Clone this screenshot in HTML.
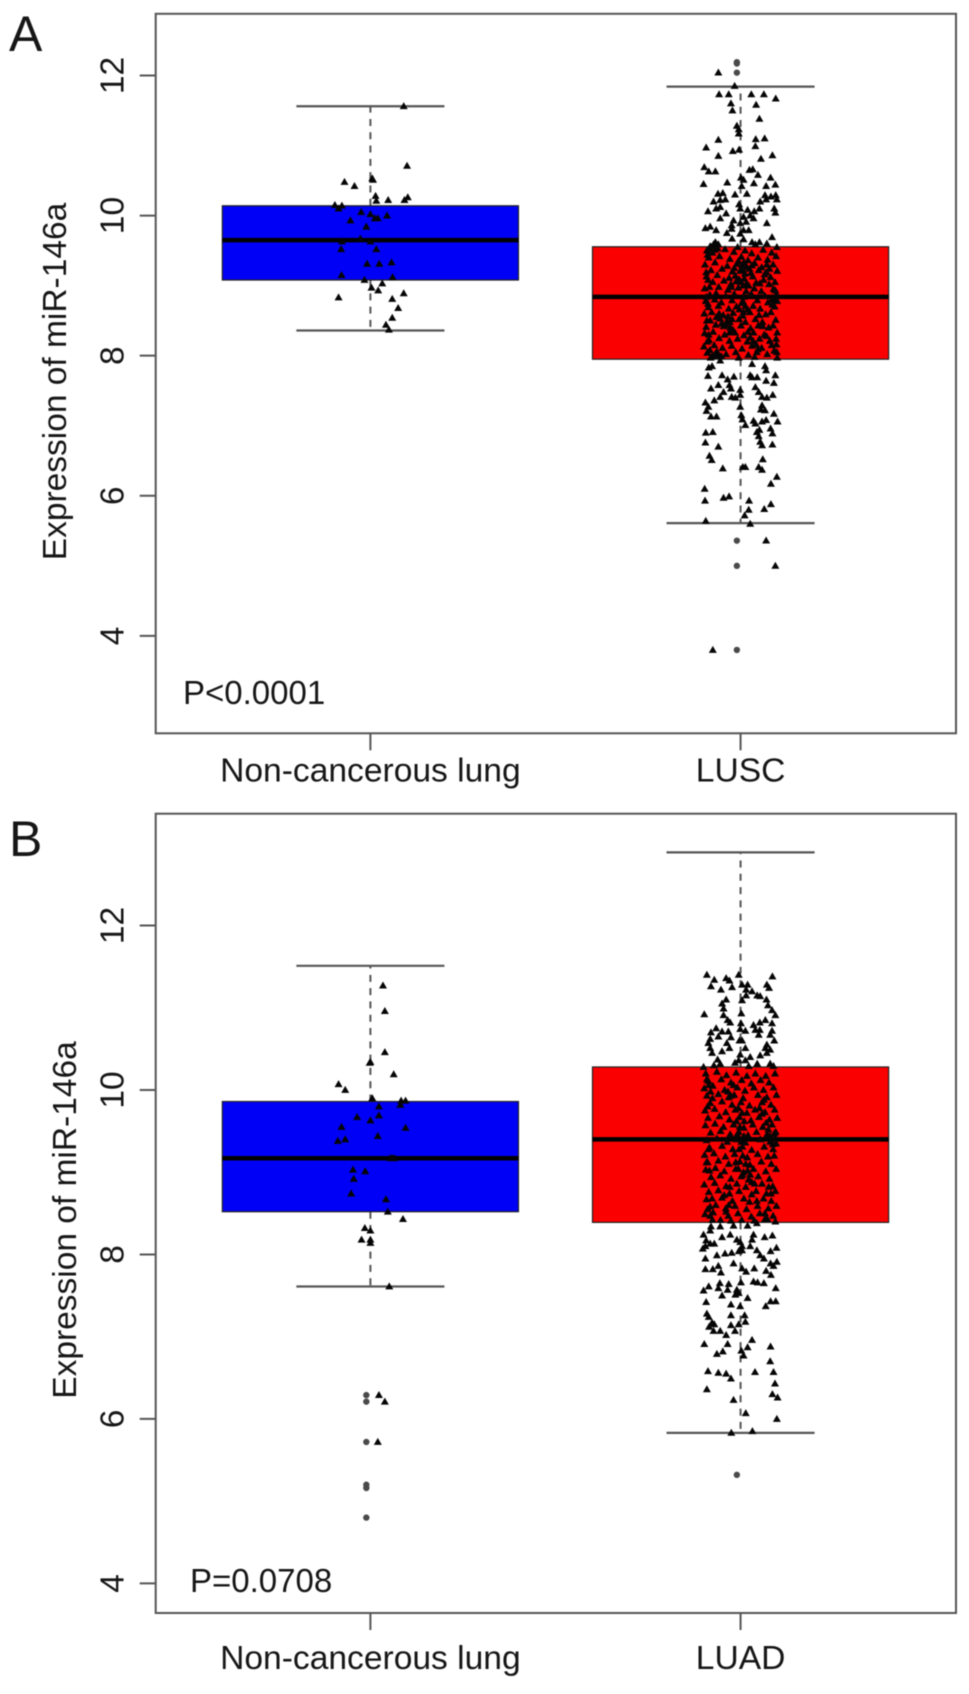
<!DOCTYPE html>
<html lang="en">
<head>
<meta charset="utf-8">
<title>Expression of miR-146a box plots</title>
<style>
html,body{margin:0;padding:0;background:#fff;}
#chart{display:block;filter:blur(0.6px);}
text{font-family:"Liberation Sans",Arial,sans-serif;fill:#161616;}
</style>
</head>
<body>
<svg id="chart" xmlns="http://www.w3.org/2000/svg" width="969" height="1694" viewBox="0 0 969 1694"></svg>
<script>
const yTicks = [4, 6, 8, 10, 12];
const categoriesA = ['Non-cancerous lung', 'LUSC'];
const categoriesB = ['Non-cancerous lung', 'LUAD'];
// box statistics: lower whisker, Q1, median, Q3, upper whisker
const boxNormalA = [8.36, 9.08, 9.65, 10.14, 11.56];
const boxTumorA = [5.61, 7.95, 8.84, 9.555, 11.84];
const boxNormalB = [7.61, 8.52, 9.17, 9.86, 11.51];
const boxTumorB = [5.83, 8.39, 9.40, 10.28, 12.89];
// jittered samples: [jitter in 1/100 of a category, expression]
const normalPointsA = [[9,11.56],[9.9,10.71],[.5,10.53],[.7,10.51],[-7,10.48],[-4.3,10.42],[1.4,10.28],[1.6,10.21],[4.8,10.22],[10.1,10.26],[9.2,10.22],[-9.6,10.15],[-7.7,10.14],[-8.6,10.1],[-2.5,10.05],[0,10.02],[4.5,10],[-5.4,9.93],[1.2,9.96],[2,9.96],[-1.1,9.84],[-2.7,9.67],[-7.7,9.63],[0,9.63],[-7.9,9.52],[1.6,9.52],[-.9,9.31],[2.4,9.31],[5.7,9.33],[-7.8,9.15],[-1.6,9.08],[6,9.12],[3.2,9.03],[.3,8.97],[2.1,8.93],[9,8.89],[-8.6,8.83],[5.9,8.81],[7.5,8.68],[5.9,8.54],[4.2,8.44],[5,8.37]];
const tumorPointsA = [[-6,12.04],[-1.6,11.85],[-5.8,11.73],[-3.2,11.73],[2.9,11.73],[6.3,11.73],[9.5,11.67],[-2.6,11.6],[4.2,11.58],[-2.2,11.5],[5.1,11.38],[-1,11.28],[-.5,11.23],[-.5,11.17],[-6,11.08],[4.1,11.09],[6.5,11.1],[4,10.99],[-9.3,10.97],[-2.1,10.92],[-.4,10.94],[-6,10.85],[5.5,10.81],[8.6,10.86],[-9.8,10.69],[-8.6,10.63],[-6.8,10.63],[2.4,10.65],[3.3,10.66],[4.7,10.58],[.1,10.54],[.8,10.51],[8.1,10.54],[-10,10.45],[-3.6,10.47],[.3,10.42],[3.6,10.46],[6.9,10.42],[9.4,10.44],[-6.1,10.31],[-4.8,10.32],[-1.5,10.3],[1.7,10.31],[6.6,10.29],[8.2,10.27],[9.5,10.29],[-7.3,10.2],[-5.5,10.22],[-4.1,10.23],[5.3,10.2],[6.9,10.23],[9.8,10.23],[-.4,10.16],[-5.5,10.12],[-6.6,10.1],[-8.8,10.06],[-3.9,10.03],[-.1,10.1],[1.9,10.08],[3.7,10.06],[5.1,10.1],[9.1,10.1],[9.4,10.04],[-5.5,9.96],[-1.9,9.93],[.8,9.98],[2.6,10],[3.5,9.96],[-2.4,9.86],[-.1,9.89],[1.5,9.91],[7.1,9.89],[-9.5,9.82],[-8.2,9.84],[-6.6,9.79],[-3.7,9.75],[-2.4,9.81],[.8,9.79],[2.2,9.79],[-.1,9.74],[8.5,9.69],[-2.3,9.67],[.8,9.66],[3.1,9.62],[5.1,9.62],[7.1,9.6],[-6.8,9.62],[-8.2,9.56],[-7.3,9.59],[-6,9.59],[-.8,9.55],[4,9.59],[9.8,9.55],
[-9.1,9.5],[-7.6,9.47],[-4.2,9.52],[-1.8,9.48],[1.2,9.5],[3,9.46],[6.1,9.51],[8.4,9.47],[-8.6,9.4],[-5.7,9.42],[-2.9,9.38],[.2,9.41],[2,9.36],[4.7,9.4],[7.3,9.37],[9.6,9.42],[-9.6,9.3],[-6.9,9.33],[-3.6,9.28],[-1,9.31],[1.6,9.27],[3.8,9.32],[5.7,9.26],[8.8,9.3],[-8,9.22],[-5,9.24],[-2.2,9.2],[.6,9.23],[2.8,9.18],[4.9,9.22],[7,9.19],[9.9,9.21],[-9.2,9.13],[-6.3,9.15],[-3.1,9.11],[-1.4,9.14],[1,9.1],[3.3,9.13],[6.2,9.08],[8.1,9.12],[-7.5,9.05],[-4.5,9.07],[-2.6,9.02],[.1,9.05],[2.2,9],[4.2,9.04],[7.7,9.02],[9.3,9.05],[-9.7,8.96],[-5.9,8.98],[-3.4,8.94],[-.6,8.97],[1.5,8.92],[3.7,8.96],[5.6,8.92],[8.9,8.95],[-8.3,8.87],[-6.6,8.89],[-4,8.85],[-1.7,8.88],[.9,8.84],[2.9,8.88],[6.6,8.85],[9.7,8.87],[-9.4,8.78],[-7,8.8],[-5.2,8.76],[-2.3,8.79],[.3,8.75],[4.5,8.79],[7.4,8.76],[8.5,8.8],[-8.7,8.69],[-6,8.71],[-3.2,8.67],[-1.1,8.7],[1.9,8.66],[3.4,8.71],[5.3,8.67],[9.2,8.7],[-9.8,8.6],[-7.8,8.62],[-4.7,8.58],[-2,8.61],[.6,8.57],[2.5,8.62],[6.8,8.59],[8.2,8.62],[-8.2,8.5],[-5.5,8.53],[-3.7,8.49],[-.4,8.52],[1.3,8.48],[4,8.52],[5.9,8.48],[9.5,8.51],[-9.3,8.41],[-6.7,8.44],[-2.8,8.4],[.1,8.43],[2.7,8.39],[4.8,8.43],[7.6,8.4],[8.8,8.43],[-9.7,8.32],[-7.4,8.34],[-4.3,8.3],[-1.5,8.33],[.9,8.29],[3.5,8.33],[6.4,8.3],[9.9,8.33],[-8.5,8.22],[-5.8,8.25],[-3,8.21],[-.8,8.24],[1.8,8.2],[5.1,8.24],[7.9,8.21],[9.6,8.24],[-9.9,8.13],[-7.1,8.15],[-4.9,8.11],[-2.4,8.14],[.4,8.1],[3.1,8.14],[5.7,8.11],[8.4,8.15],[-9,8.04],[-6.4,8.06],[-3.9,8.02],[-1.3,8.05],[2.1,8.01],[4.4,8.05],[7.2,8.02],[9.8,8.05],[-8.1,7.97],[-5.2,7.99],[-.5,7.97],[3.8,7.98],[9.9,7.97],
[-8.6,7.83],[-7.7,7.85],[-5.5,7.93],[6.6,7.85],[6.9,7.79],[3.1,7.88],[-8.8,7.71],[-5,7.72],[-3.5,7.66],[-1.8,7.7],[2.6,7.72],[3.1,7.69],[4.5,7.69],[6.9,7.64],[9.4,7.72],[9,7.61],[-3,7.58],[-8,7.53],[-6,7.58],[4,7.55],[-.1,7.51],[-2.6,7.53],[4.9,7.48],[-4.6,7.48],[-5.5,7.41],[-7.1,7.36],[-2.4,7.41],[-1.4,7.4],[-.1,7.44],[5.8,7.41],[7.1,7.4],[8.7,7.44],[-9.5,7.33],[-8.7,7.27],[-9.2,7.21],[-.1,7.27],[5.8,7.29],[5.5,7.23],[6.6,7.22],[9,7.17],[-8,7.13],[-6.5,7.13],[.2,7.15],[.5,7.09],[3.5,7.07],[5.8,7.06],[6.9,7.08],[10,7.06],[1.3,7.01],[4,7.03],[-9.4,6.9],[-7.5,6.91],[4.4,6.91],[8.1,6.96],[8.6,6.89],[5.1,6.94],[4.9,6.85],[-9.5,6.76],[-6,6.7],[5.3,6.77],[5.8,6.72],[8.6,6.73],[-8.4,6.57],[-7.8,6.51],[6,6.52],[-4.8,6.39],[.6,6.41],[1.3,6.41],[4.9,6.41],[5.8,6.37],[9.8,6.27],[8.2,6.17],[-9.7,6.1],[-9.6,5.93],[-4.6,5.97],[-3.1,5.99],[2.3,5.93],[8.2,5.88],[6.4,5.81],[2.2,5.8],[1.1,5.72],[-9.4,5.64],[2.6,5.6],[6.9,5.36],[9.4,5],[-7.5,3.8]];
const tumorClusterA = [[-.6,9.35],[.4,9.29],[-.1,9.21],[1.2,9.17],[.9,9.33],[-1.7,9.25],[2.4,9.24],[3.1,9.29],[-1.2,9.06],[-.4,9.09],[.7,9],[1.6,9.03],[-2.5,8.98],[-8.6,9.52],[-8.9,9.44],[-7.9,9.55],[-7,9.51],[-6.2,9.53],[-9.3,9.19],[-8.8,9.08],[-8.4,8.98],[-9.2,8.84],[-8.8,8.74],[-9.1,8.5],[-8.6,8.3],[-9,8.2],[-8.3,8.08],[-7.7,7.99],[-6.9,8.02],[-6,8],[-3.4,8.56],[-3.9,8.44],[-2.9,8.48],[-2.3,8.52],[-3,8.33],[-2.1,8.37],[-.3,8.66],[.8,8.62],[1.3,8.71],[.6,8.78],[2,8.34],[2.6,8.26],[3.4,8.21],[4.2,8.16],[4.7,8.09],[8.9,8.82],[9.4,8.93],[8.6,8.73],[9.9,8.78],[7.1,9.3],[7.8,9.24],[6.5,9.16],[5.2,9.03],[9.7,8.16],[9.1,8.07],[-5.8,8.6],[-6.5,8.55],[-5.1,8.46],[-4.6,8.42],[5,8.58],[6,8.42],[7,8.28]];
const tumorOutliersA = [[-1,12.19],[-1,12.17],[-1,12.04],[-1,5.36],[-1,5],[-1,3.8]];
const normalPointsB = [[3.4,11.27],[3.9,10.96],[3.9,10.46],[-.2,10.33],[0,10.34],[6.3,10.19],[-8.6,10.07],[-6.8,10],[.5,9.9],[8.3,9.87],[9.5,9.87],[8.1,9.82],[2.3,9.8],[2.3,9.69],[-3.6,9.67],[0,9.63],[-7.8,9.55],[9.5,9.54],[2,9.44],[-8.8,9.38],[-6.8,9.4],[5.9,9.17],[6.5,9.17],[5.4,9.17],[-4.7,9.03],[-1.4,9.01],[-4.5,8.92],[-5.2,8.74],[4.2,8.67],[4.7,8.52],[8.8,8.43],[-1.5,8.32],[0,8.29],[-2.4,8.18],[0,8.18],[0,8.14],[5.1,7.61],[2.3,6.29],[3.9,6.21],[2,5.72]];
const normalOutliersB = [[-1.1,6.29],[-1.1,6.21],[-1.1,5.72],[-1.1,5.2],[-1.1,5.16],[-1.1,4.8]];
const tumorPointsB = [[-9.1,11.4],[-7.1,11.34],[-8,11.26],[-3.9,11.36],[-3,11.33],[-.5,11.4],[-2.3,11.25],[-5.3,11.22],[.4,11.28],[1.9,11.28],[1.5,11.22],[8.6,11.38],[7.1,11.28],[7.7,11.24],[3.1,11.2],[4.5,11.15],[1.5,11.15],[.4,11.09],[5.3,11.14],[7,11.1],[-3.9,11.1],[-5,11.05],[-4.6,10.99],[7.4,11.03],[8.5,10.97],[9.4,10.91],[-9.8,10.92],[.2,10.93],[-4.6,10.91],[-3.5,10.85],[-2.8,10.82],[.1,10.81],[6.7,10.85],[8.5,10.81],[5.2,10.82],[3.5,10.79],[-.1,10.74],[-6.6,10.75],[4,10.73],[5.2,10.73],[8.5,10.72],[-8,10.7],[-5,10.71],[-3.3,10.71],[1.3,10.72],[4.9,10.67],[8,10.67],[-8.2,10.62],[-6,10.65],[-2.6,10.64],[-.3,10.6],[.4,10.6],[9.1,10.6],[-8.7,10.57],[-3.7,10.57],[7.1,10.55],[-8.2,10.51],[-5,10.47],[-3,10.51],[1.3,10.51],[6.7,10.51],[8,10.49],[-7.7,10.45],[-.1,10.43],[2.6,10.4],[5.3,10.42],[7.1,10.45],[-6.2,10.37],[-.5,10.36],[1.3,10.36],[-5.5,10.32],[-1.5,10.33],[4.5,10.32],[8,10.32],[8.9,10.29],[-10,10.28],[-7.2,10.3],[2.2,10.29],
[-9.4,10.2],[-6.4,10.22],[-3.8,10.18],[-1.2,10.21],[1.7,10.17],[4,10.2],[6.8,10.17],[9.3,10.2],[-8.7,10.11],[-5.2,10.13],[-2.6,10.09],[.3,10.12],[2.9,10.08],[5.4,10.12],[7.7,10.09],[-9.8,10.02],[-7.5,10.05],[-4.3,10],[-.9,10.03],[1.2,9.99],[3.6,10.03],[6.2,10],[8.9,10.03],[-9.1,9.93],[-6,9.95],[-3.2,9.91],[-1.7,9.94],[.7,9.9],[4.7,9.94],[7.1,9.91],[9.7,9.94],[-8.2,9.84],[-5,9.86],[-2.3,9.82],[.1,9.85],[2.4,9.81],[5.8,9.85],[8.2,9.82],[-9.6,9.75],[-7,9.77],[-4,9.73],[-1.4,9.76],[1.7,9.72],[3.9,9.76],[6.6,9.73],[9.2,9.76],[-8.8,9.66],[-5.7,9.68],[-3,9.64],[-.3,9.67],[2.8,9.63],[5,9.67],[7.8,9.64],[9.9,9.66],[-9.5,9.57],[-6.9,9.59],[-4.6,9.55],[-1.9,9.58],[.9,9.54],[3.3,9.58],[6,9.55],[8.5,9.58],[-8.1,9.48],[-5.4,9.5],[-2.8,9.46],[-.5,9.49],[2,9.45],[4.3,9.49],[7.2,9.46],[9.5,9.49],[-9.2,9.39],[-6.4,9.41],[-3.6,9.37],[-1.1,9.4],[1.3,9.36],[5.3,9.4],[8,9.37],[9.3,9.41],[-8.4,9.3],[-5,9.32],[-2.1,9.28],[.5,9.31],[3,9.27],[6.4,9.31],[8.8,9.28],[-9.7,9.21],[-7.2,9.23],[-4.1,9.19],[-1.6,9.22],[1.8,9.18],[4.6,9.22],[7.4,9.19],[-8.9,9.12],[-6,9.14],[-3.2,9.1],[-.2,9.13],[2.5,9.09],[5.6,9.13],[8.3,9.1],[-9.4,9.03],[-6.8,9.05],[-4.4,9.01],[-1.3,9.04],[.8,9],[3.5,9.04],[6.8,9.01],[9.6,9.04],[-8,8.94],[-5.5,8.96],[-2.6,8.92],[.2,8.95],[2.2,8.91],[4.8,8.95],[7.8,8.92],[-9.8,8.85],[-7,8.87],[-3.9,8.83],[-1,8.86],[1.4,8.82],[5.8,8.86],[8.7,8.83],[-8.6,8.76],[-6,8.78],[-3,8.74],[-.4,8.77],[3,8.73],[4.2,8.77],[7,8.74],[9.4,8.77],[-9.2,8.67],[-5,8.69],[-2.2,8.65],[.9,8.68],[2.4,8.64],[6.2,8.68],[8.3,8.65],[-8.2,8.58],[-6.7,8.6],[-4,8.56],[-1.5,8.59],[1.6,8.55],[4.6,8.59],[7.5,8.56],[9.7,8.59],[-9.6,8.49],[-7.4,8.51],[-3.3,8.47],[-.7,8.5],[2.9,8.46],[5.2,8.5],[8.8,8.47],[-5.4,8.42],[-2.6,8.41],[.3,8.42],[3.7,8.41],[6.6,8.43],
[-8,8.34],[-5.5,8.34],[-1.9,8.35],[1.9,8.35],[4.4,8.38],[9.4,8.4],[-8.2,8.29],[-10,8.24],[-5,8.21],[-2.8,8.24],[3.5,8.24],[3.1,8.18],[6.5,8.21],[8.6,8.23],[-1,8.18],[-.1,8.15],[-9.3,8.17],[-8.2,8.13],[-9.5,8.1],[-10.2,8.07],[-7.1,8.13],[2.6,8.1],[.4,8.1],[9.7,8.08],[4.4,8.05],[8.1,8.04],[-6.4,7.99],[-4.2,8.01],[-2.4,8.02],[-.5,8.04],[.4,8.05],[5.3,7.99],[-9.5,7.95],[6.3,7.95],[-1.9,7.89],[8.1,7.89],[9.8,7.91],[8.9,7.86],[-9.5,7.82],[-7.5,7.82],[-6,7.86],[-5.3,7.78],[.4,7.83],[1.5,7.79],[3.7,7.83],[6.9,7.8],[8.2,7.75],[3.5,7.67],[4.6,7.66],[6.3,7.65],[.1,7.66],[-5.6,7.65],[-3.2,7.64],[-6,7.59],[-10,7.56],[-8.6,7.61],[-3.5,7.57],[-1,7.57],[-.5,7.53],[9.5,7.59],[-5,7.5],[-1.4,7.51],[1.9,7.47],[-9.3,7.42],[-2.6,7.39],[-.1,7.37],[8.1,7.43],[9.5,7.43],[6.8,7.37],[-9.1,7.28],[-8.6,7.24],[-2.6,7.26],[1.1,7.26],[-7.7,7.17],[-7.1,7.15],[-8.5,7.12],[-2.6,7.14],[-.5,7.15],[1.3,7.18],[-7.3,7.07],[-5.5,7.07],[-3.9,7.02],[-1.5,7.07],[3.1,6.96],[-9.8,6.91],[-3.5,6.91],[1.9,6.87],[8.1,6.88],[.2,6.83],[-4.8,6.82],[-6.4,6.79],[.8,6.77],[8,6.7],[-8.8,6.58],[-6,6.56],[-3.9,6.55],[-2.6,6.49],[3.9,6.57],[8.9,6.57],[9.3,6.43],[-9.1,6.36],[8.6,6.3],[10,6.26],[-1.9,6.23],[1.4,6.07],[9.8,6],[-2.5,5.83],[3.2,5.85]];
const tumorClusterB = [[-8.6,10.06],[-9.1,10.13],[-8.1,9.98],[-7.6,9.9],[-8.9,9.8],[-3.4,9.98],[-2.6,9.93],[-1.9,10.06],[-.6,9.78],[.4,9.72],[1,9.62],[-.2,9.55],[-1.1,9.62],[-.9,9.46],[.2,9.37],[.9,9.44],[-.4,9.28],[.6,9.2],[1.4,9.1],[-1.3,9.12],[-.6,9.04],[.5,8.97],[1.9,9.02],[2.6,8.97],[3,8.88],[-8.7,9.28],[-9.2,9.12],[-8.4,9.02],[-7.7,8.68],[-8.9,8.55],[-8.2,8.47],[-7.6,8.42],[6.9,9.6],[7.5,9.52],[8,9.44],[8.7,9.34],[9.1,9.47],[9.6,9.35],[9.1,9.2],[7.6,8.82],[8.2,8.74],[6.6,8.5],[7.2,8.43],[-3.9,8.52],[-3.2,8.6],[-4.4,8.72],[-2.9,8.82],[3.8,8.86],[4.4,8.65],[5.1,9.78],[5.8,9.71],[6.3,9.88]];
const tumorOutliersB = [[-1,5.32]];
const pLabelA = 'P<0.0001';
const pLabelB = 'P=0.0708';
const yTitle = 'Expression of miR-146a';

const SVG_NS = 'http://www.w3.org/2000/svg';
const svg = document.getElementById('chart');

function make(tag, attrs, parent, txt) {
  const el = document.createElementNS(SVG_NS, tag);
  for (const k in attrs) el.setAttribute(k, attrs[k]);
  if (txt !== undefined) el.textContent = txt;
  parent.appendChild(el);
  return el;
}
function scaleLinear(d0, d1, r0, r1) {
  return v => r0 + (v - d0) * (r1 - r0) / (d1 - d0);
}

function drawPanel(cfg) {
  const g = make('g', {}, svg);
  
  
  const xS = scaleLinear(0.42, 2.582, cfg.left, cfg.right);
  const yS = scaleLinear(cfg.yDomain[0], cfg.yDomain[1], cfg.bottom, cfg.top);
  const AXIS = '#555';

  const letter = make('text', {x: cfg.letterX, y: cfg.letterY, 'font-size': 50}, g, cfg.letter);
  
  

  const frame = make('rect', {x: cfg.left, y: cfg.top, width: cfg.right - cfg.left, height: cfg.bottom - cfg.top, fill: 'none', stroke: AXIS, 'stroke-width': 2}, g);
  
  

  yTicks.forEach(t => {
    const py = yS(t);
    const tick = make('line', {x1: cfg.left - 16, x2: cfg.left, y1: py, y2: py, stroke: AXIS, 'stroke-width': 2}, g);
    
    
    const lab = make('text', {transform: `translate(123.5 ${py}) rotate(-90)`, 'text-anchor': 'middle', 'font-size': 33.5}, g, String(t));
    
    
  });

  const title = make('text', {transform: `translate(${cfg.titleX} ${cfg.titleY}) rotate(-90)`, 'text-anchor': 'middle', 'font-size': 33.5}, g, yTitle);
  
  

  cfg.categories.forEach((c, i) => {
    const px = xS(i + 1);
    const tick = make('line', {x1: px, x2: px, y1: cfg.bottom, y2: cfg.bottom + 17, stroke: AXIS, 'stroke-width': 2}, g);
    
    
    const lab = make('text', {x: px, y: cfg.labelY, 'text-anchor': 'middle', 'font-size': 33.6}, g, c);
    
    
  });

  cfg.boxes.forEach((b, i) => {
    const pos = i + 1;
    const bg = make('g', {}, g);
    
    
    const [lo, q1, med, q3, hi] = b;
    const fill = i === 0 ? '#0000f6' : '#fb0000';
    const dashU = make('line', {x1: xS(pos), x2: xS(pos), y1: yS(q3), y2: yS(hi), stroke: AXIS, 'stroke-width': 2, 'stroke-dasharray': '7 6.3'}, bg);
    
    
    const dashL = make('line', {x1: xS(pos), x2: xS(pos), y1: yS(q1), y2: yS(lo), stroke: AXIS, 'stroke-width': 2, 'stroke-dasharray': '7 6.3'}, bg);
    
    
    [lo, hi].forEach(w => {
      const cap = make('line', {x1: xS(pos - 0.2), x2: xS(pos + 0.2), y1: yS(w), y2: yS(w), stroke: AXIS, 'stroke-width': 2.2}, bg);
      
      
    });
    const rect = make('rect', {x: xS(pos - 0.4), y: yS(q3), width: xS(pos + 0.4) - xS(pos - 0.4), height: yS(q1) - yS(q3), fill: fill, stroke: '#222', 'stroke-width': 1.2}, bg);
    
    
    const m = make('line', {x1: xS(pos - 0.4), x2: xS(pos + 0.4), y1: yS(med), y2: yS(med), stroke: '#000', 'stroke-width': 4.5}, bg);
    
    
  });

  cfg.outliers.forEach((set, i) => {
    set.forEach(p => {
      const c = make('circle', {cx: xS(i + 1 + p[0] / 100), cy: yS(p[1]), r: 3.2, fill: '#4a4a4a'}, g);
      
      
    });
  });

  cfg.points.forEach((set, i) => {
    set.forEach(p => {
      const px = xS(i + 1 + p[0] / 100);
      const py = yS(p[1]);
      const t = make('polygon', {points: `${px},${py - 4.1} ${px + 4},${py + 2.9} ${px - 4},${py + 2.9}`, fill: '#050505'}, g);
      
      
    });
  });

  const pl = make('text', {x: cfg.pX, y: cfg.pY, 'font-size': 33}, g, cfg.pLabel);
  
  
}

drawPanel({
  name: 'panel-a', letter: 'A', letterX: 9, letterY: 51,
  left: 155.7, right: 956, top: 13.8, bottom: 733.3, yDomain: [2.61, 12.88],
  titleX: 66, titleY: 381.5, labelY: 781.7, pX: 183, pY: 704, pLabel: pLabelA,
  categories: categoriesA, boxes: [boxNormalA, boxTumorA],
  points: [normalPointsA, tumorPointsA.concat(tumorClusterA)], outliers: [[], tumorOutliersA]
});
drawPanel({
  name: 'panel-b', letter: 'B', letterX: 9, letterY: 856,
  left: 155.7, right: 956, top: 813.7, bottom: 1613, yDomain: [3.64, 13.36],
  titleX: 76, titleY: 1220, labelY: 1669, pX: 190, pY: 1592, pLabel: pLabelB,
  categories: categoriesB, boxes: [boxNormalB, boxTumorB],
  points: [normalPointsB, tumorPointsB.concat(tumorClusterB)], outliers: [normalOutliersB, tumorOutliersB]
});
</script>
</body>
</html>
